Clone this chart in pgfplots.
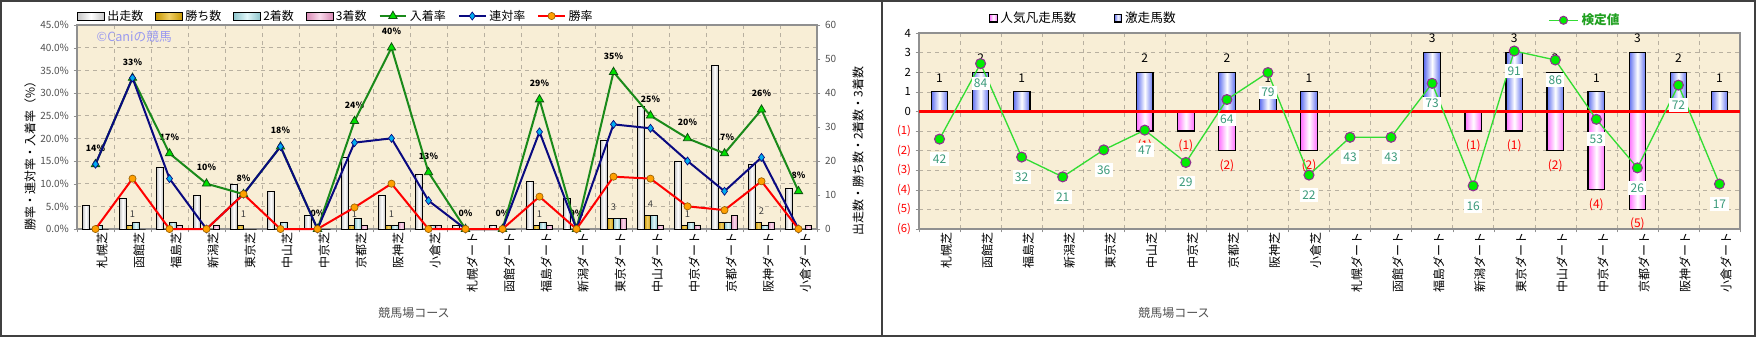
\documentclass[border=0pt]{standalone}
\usepackage{fontspec}
\setmainfont{Noto Sans CJK JP}
\usepackage{pgfplots}
\usepackage{pgfplotstable}
\pgfplotsset{compat=1.18}
\pgfplotsset{/pgf/number format/assume math mode=true}

\definecolor{bgc}{HTML}{F8EED6}
\definecolor{gridc}{HTML}{B8B0A0}
\definecolor{framec}{HTML}{404040}
\definecolor{axc}{HTML}{909090}
\definecolor{ticktxt}{HTML}{505050}
\definecolor{goldc}{HTML}{E8B000}
\definecolor{cyanc}{HTML}{A8E8F0}
\definecolor{pinkc}{HTML}{F098C8}
\definecolor{gline}{HTML}{1A8A1A}
\definecolor{gmark}{HTML}{00E000}
\definecolor{navyc}{HTML}{0A0A80}
\definecolor{orangec}{HTML}{FFA000}
\definecolor{bluebar}{HTML}{6070F0}
\definecolor{pinkbar}{HTML}{FF70FF}
\definecolor{kline}{HTML}{33DD33}
\definecolor{kmark}{HTML}{00EE00}
\definecolor{kedge}{HTML}{903090}
\definecolor{klab}{HTML}{3A9A7A}
\definecolor{wm}{HTML}{9A9AF0}
\definecolor{kleg}{HTML}{20A020}

\pgfplotstableread{
i run win sec thi fin ren wr
0  7 0 1 0 14.29 14.29 0
1  9 1 2 0 33.33 33.33 11.11
2 18 0 2 1 16.67 11.11 0
3 10 0 0 1 10.00 0 0
4 13 1 0 0 7.69 7.69 7.69
5 11 0 2 0 18.18 18.18 0
6  4 0 0 0 0 0 0
7 21 1 3 1 23.81 19.05 4.76
8 10 1 1 2 40.00 20.00 10.00
9 16 0 1 1 12.50 6.25 0
10 1 0 0 0 0 0 0
11 1 0 0 0 0 0 0
12 14 1 2 1 28.57 21.43 7.14
13 9 0 0 0 0 0 0
14 26 3 3 3 34.62 23.08 11.54
15 36 4 4 1 25.00 22.22 11.11
16 20 1 2 1 20.00 15.00 5.00
17 48 2 2 4 16.67 8.33 4.17
18 19 2 1 2 26.32 15.79 10.53
19 12 0 0 1 8.33 0 0
}\leftdata

\pgfplotstableread{
i w
1 1
4 1
7 1
8 1
12 1
14 3
15 4
16 1
17 2
18 2
}\winlab

\pgfplotstableread{
i g
0 1
1 2
2 1
5 2
7 2
8 1
9 1
12 3
14 3
15 2
16 1
17 3
18 2
19 1
}\posdata

\pgfplotstableread{
i p lab
5 -1 (1)
6 -1 (1)
7 -2 (2)
9 -2 (2)
13 -1 (1)
14 -1 (1)
15 -2 (2)
16 -4 (4)
17 -5 (5)
}\negdata

\pgfplotstableread{
i k
0 42
1 84
2 32
3 21
4 36
5 47
6 29
7 64
8 79
9 22
10 43
11 43
12 73
13 16
14 91
15 86
16 53
17 26
18 72
19 17
}\kentei

\pgfplotsset{
  courseticks/.style={
    xtick={0,...,19},
    xticklabels={札幌芝,函館芝,福島芝,新潟芝,東京芝,中山芝,中京芝,京都芝,阪神芝,小倉芝,札幌ダート,函館ダート,福島ダート,新潟ダート,東京ダート,中山ダート,中京ダート,京都ダート,阪神ダート,小倉ダート},
    xticklabel style={rotate=90, anchor=east, font=\fontsize{9}{10}\selectfont, inner sep=0pt, yshift=-5pt},
    major x tick style={draw=none},
    minor xtick={-0.5,0.5,...,19.5},
    xminorgrids, ymajorgrids,
    grid style={gridc, dashed, line width=0.4pt},
    minor grid style={gridc, dashed, line width=0.4pt},
    tick align=outside, major tick length=2.5pt, minor tick length=2.5pt,
    tick style={axc},
    xtick pos=bottom, ytick pos=left,
  },
  barlegend/.style={legend image code/.code={\draw[##1] (0pt,-3pt) rectangle (20pt,3pt);}},
  linelegend/.style={legend image code/.code={\draw[mark repeat=2,mark phase=2,##1] plot coordinates {(0pt,0pt) (10pt,0pt) (20pt,0pt)};}},
  sqlegend/.style={legend image code/.code={\draw[##1] (0pt,-2.8pt) rectangle (5.6pt,2.8pt);}},
  klegend/.style={legend image code/.code={\draw[mark repeat=2,mark phase=2,##1, mark size=3pt] plot coordinates {(0pt,0pt) (11pt,0pt) (22pt,0pt)};}},
  runbar/.style={draw=black, line width=0.5pt, left color=gray!45, right color=gray!45, middle color=white},
  winbar/.style={draw=black, line width=0.5pt, left color=goldc!85!black, right color=goldc!85!black, middle color=goldc!60!white},
  secbar/.style={draw=black, line width=0.5pt, left color=cyanc!85!black, right color=cyanc!85!black, middle color=cyanc!35!white},
  thibar/.style={draw=black, line width=0.5pt, left color=pinkc!90!black, right color=pinkc!90!black, middle color=pinkc!35!white},
  negbar/.style={draw=black, line width=0.9pt, left color=pinkbar, right color=pinkbar, middle color=white},
  posbar/.style={draw=black, line width=0.9pt, left color=bluebar, right color=bluebar, middle color=white},
}

% one plot per bar so that each bar gets its own shading
% #1 table, #2 column, #3 shift, #4 width, #5 style, #6 list of categories
\newcommand{\gbars}[6]{%
  \pgfplotsinvokeforeach{#6}{%
    \addplot[ybar, forget plot, bar width=#4, bar shift=#3, #5,
      restrict x to domain=##1:##1] table[x=i,y=#2]{#1};
  }%
}

\begin{document}
\begin{tikzpicture}
\useasboundingbox (0,0) rectangle (1317pt,252.75pt);

% ---------------- LEFT PANEL ----------------
\begin{axis}[
  at={(57.75pt,81pt)}, anchor=south west, scale only axis,
  width=555pt, height=153pt,
  xmin=-0.5, xmax=19.5, ymin=0, ymax=45,
  axis background/.style={fill=bgc},
  axis line style={axc, line width=0.8pt},
  courseticks,
  ytick={0,5,...,45},
  yticklabel={\pgfmathprintnumber[fixed,fixed zerofill,precision=1]{\tick}\%},
  yticklabel style={font=\fontsize{7.5}{9}\selectfont, text=ticktxt},
]
\addplot[draw=none, mark=none, point meta=y,
  nodes near coords={\pgfmathprintnumber[fixed,precision=0]{\pgfplotspointmeta}\%},
  every node near coord/.append style={font=\bfseries\fontsize{6.5}{7}\selectfont, text=black, inner sep=1pt, anchor=center, yshift=12pt}]
  table[x=i,y=fin]{\leftdata};
\end{axis}

\begin{axis}[
  at={(57.75pt,81pt)}, anchor=south west, scale only axis,
  width=555pt, height=153pt,
  xmin=-0.5, xmax=19.5, ymin=0, ymax=60,
  axis y line*=right, axis x line=none,
  axis line style={axc, line width=0.8pt},
  ytick={0,10,...,60},
  yticklabel style={font=\fontsize{7.5}{9}\selectfont, text=ticktxt},
  tick align=outside, major tick length=2.5pt, tick style={axc},
]
\gbars{\leftdata}{run}{-7.3125pt}{4.875pt}{runbar}{0,...,19}
\gbars{\leftdata}{win}{-2.4375pt}{4.875pt}{winbar}{0,...,19}
\gbars{\leftdata}{sec}{2.4375pt}{4.875pt}{secbar}{0,...,19}
\gbars{\leftdata}{thi}{7.3125pt}{4.875pt}{thibar}{0,...,19}
\addplot[ybar, bar width=4.875pt, bar shift=-2.4375pt, draw=none, fill=none,
  nodes near coords,
  every node near coord/.append style={font=\fontsize{7}{8}\selectfont, text=black!75, inner sep=1pt, anchor=center, yshift=8.5pt}]
  table[x=i,y=w]{\winlab};
\end{axis}

\begin{axis}[
  at={(57.75pt,81pt)}, anchor=south west, scale only axis,
  width=555pt, height=153pt,
  xmin=-0.5, xmax=19.5, ymin=0, ymax=45,
  hide axis, clip=false,
  legend columns=-1,
  legend style={draw=none, fill=none, at={(0.0,1.044)}, anchor=west, inner sep=0pt,
    font=\fontsize{9}{10}\selectfont, /tikz/every even column/.append style={column sep=7pt}},
]
\addlegendimage{barlegend, runbar}
\addlegendentry{出走数}
\addlegendimage{barlegend, winbar}
\addlegendentry{勝ち数}
\addlegendimage{barlegend, secbar}
\addlegendentry{2着数}
\addlegendimage{barlegend, thibar}
\addlegendentry{3着数}
\addplot[linelegend, gline, line width=1.5pt, mark=triangle*, mark size=3.6pt,
  mark options={fill=gmark, draw=gline!60!black, line width=0.6pt}]
  table[x=i,y=fin]{\leftdata};
\addlegendentry{入着率}
\addplot[linelegend, navyc, line width=1.5pt, mark=diamond*, mark size=3pt,
  mark options={fill=cyan, draw=navyc, line width=0.5pt}]
  table[x=i,y=ren]{\leftdata};
\addlegendentry{連対率}
\addplot[linelegend, red, line width=1.5pt, mark=*, mark size=2.7pt,
  mark options={fill=orangec, draw=orangec!60!black, line width=0.5pt}]
  table[x=i,y=wr]{\leftdata};
\addlegendentry{勝率}
\end{axis}

\node[rotate=90, font=\fontsize{9}{10}\selectfont] at (22.5pt,138pt) {勝率・連対率・入着率（\%）};
\node[rotate=90, font=\fontsize{9}{10}\selectfont] at (643.5pt,139.5pt) {出走数・勝ち数・2着数・3着数};
\node[font=\fontsize{9}{10}\selectfont, text=ticktxt] at (310.5pt,18pt) {競馬場コース};
\node[anchor=west, text=wm, font=\fontsize{9.5}{10}\selectfont] at (69pt,225pt) {©Caniの競馬};

% ---------------- RIGHT PANEL ----------------
\begin{axis}[
  at={(689.25pt,81pt)}, anchor=south west, scale only axis,
  width=615.75pt, height=147pt,
  xmin=-0.5, xmax=19.5, ymin=-6, ymax=4,
  axis background/.style={fill=bgc},
  axis line style={axc, line width=0.8pt},
  courseticks,
  ytick={-6,...,4},
  yticklabels={\textcolor{red}{(6)},\textcolor{red}{(5)},\textcolor{red}{(4)},\textcolor{red}{(3)},\textcolor{red}{(2)},\textcolor{red}{(1)},0,1,2,3,4},
  yticklabel style={font=\fontsize{8.5}{10}\selectfont},
  legend columns=-1,
  legend style={draw=none, fill=none, at={(0.085,1.075)}, anchor=west, inner sep=0pt,
    font=\fontsize{9.5}{10}\selectfont, /tikz/every even column/.append style={column sep=26pt}},
]
\addlegendimage{sqlegend, negbar}
\addlegendentry{人気凡走馬数}
\addlegendimage{sqlegend, posbar}
\addlegendentry{激走馬数}
\gbars{\negdata}{p}{0pt}{12.4pt}{negbar}{5,6,7,9,13,14,15,16,17}
\gbars{\posdata}{g}{0pt}{12.4pt}{posbar}{0,1,2,5,7,8,9,12,14,15,16,17,18,19}
\addplot[ybar, forget plot, bar width=12.4pt, bar shift=0pt, draw=none, fill=none,
  point meta=explicit symbolic, nodes near coords,
  every node near coord/.append style={font=\fontsize{9}{10}\selectfont, text=red, inner sep=1pt, anchor=center, yshift=-11pt}]
  table[x=i,y=p,meta=lab]{\negdata};
\addplot[ybar, forget plot, bar width=12.4pt, bar shift=0pt, draw=none, fill=none,
  nodes near coords,
  every node near coord/.append style={font=\fontsize{9}{10}\selectfont, text=black, inner sep=1pt, anchor=center, yshift=10.5pt}]
  table[x=i,y=g]{\posdata};
\addplot[red, line width=2.2pt, forget plot] coordinates {(-0.5,0) (19.5,0)};
\end{axis}

\begin{axis}[
  at={(689.25pt,81pt)}, anchor=south west, scale only axis,
  width=615.75pt, height=147pt,
  xmin=-0.5, xmax=19.5, ymin=-8, ymax=101,
  hide axis, clip=false,
  legend style={draw=none, fill=none, at={(0.766,1.065)}, anchor=west, inner sep=0pt,
    font=\bfseries\fontsize{9.5}{10}\selectfont, text=kleg},
]
\addplot[klegend, kline, line width=1pt, mark=*, mark size=3.75pt,
  mark options={fill=kmark, draw=kedge, line width=0.8pt},
  nodes near coords,
  every node near coord/.append style={anchor=center, yshift=-15pt, fill=white, text=klab,
    font=\fontsize{9}{10}\selectfont, inner sep=1.8pt}]
  table[x=i,y=k]{\kentei};
\addlegendentry{検定値}
\end{axis}

\node[font=\fontsize{9}{10}\selectfont, text=ticktxt] at (880.5pt,18pt) {競馬場コース};

% frames
\draw[framec, line width=1.4pt] (0.7pt,0.7pt) rectangle (1316.3pt,252.05pt);
\draw[framec, line width=1.1pt] (661.5pt,0pt) -- (661.5pt,252.75pt);
\end{tikzpicture}
\end{document}
